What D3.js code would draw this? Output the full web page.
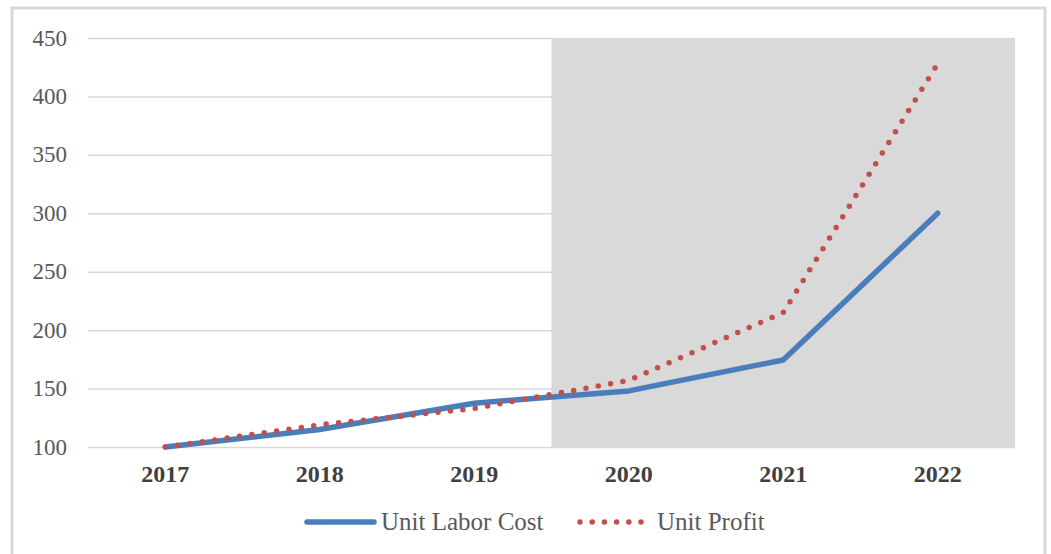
<!DOCTYPE html>
<html>
<head>
<meta charset="utf-8">
<script src="https://d3js.org/d3.v7.min.js"></script>
<style>
  body { margin: 0; background: #fff; }
  text { font-family: "Liberation Serif", "Times New Roman", serif; }
</style>
</head>
<body>
<svg id="chart" width="1051" height="554"></svg>
<script>
var years = ["2017", "2018", "2019", "2020", "2021", "2022"];
var laborCost = [100, 115, 137.5, 148, 174.5, 300];
var unitProfit = [100, 119, 133, 157, 215, 428];
var yTicks = [100, 150, 200, 250, 300, 350, 400, 450];
var shadeFrom = "2020";

var svg = d3.select("#chart");
var plotLeft = 88, plotRight = 1015, plotTop = 38, plotBottom = 447;

// outer frame
svg.append("rect")
    .attr("x", 12).attr("y", 8)
    .attr("width", 1033).attr("height", 560)
    .attr("fill", "#fff")
    .attr("stroke", "#d9d9d9")
    .attr("stroke-width", 3);

var x = d3.scaleBand().domain(years).range([plotLeft, plotRight]);
var y = d3.scaleLinear().domain([100, 450]).range([plotBottom, plotTop]);
var cx = function(d) { return x(d) + x.bandwidth() / 2; };

// gridlines
svg.append("g")
    .attr("transform", "translate(" + plotLeft + ",0)")
    .call(d3.axisLeft(y).tickValues(yTicks).tickSize(-(plotRight - plotLeft)).tickFormat(""))
    .call(function(g) { g.select(".domain").remove(); })
    .selectAll("line")
    .attr("stroke", "#d9d9d9")
    .attr("stroke-width", 1.5);

// shaded period
svg.append("rect")
    .attr("x", x(shadeFrom))
    .attr("y", plotTop)
    .attr("width", plotRight - x(shadeFrom))
    .attr("height", plotBottom - plotTop)
    .attr("fill", "#d9d9d9");

// y labels
svg.append("g")
    .selectAll("text")
    .data(yTicks)
    .enter().append("text")
    .attr("x", 67)
    .attr("y", function(d) { return y(d); })
    .attr("dy", "0.33em")
    .attr("text-anchor", "end")
    .attr("fill", "#595959")
    .style("font-size", "23px")
    .text(function(d) { return d; });

// x labels
svg.append("g")
    .selectAll("text")
    .data(years)
    .enter().append("text")
    .attr("x", cx)
    .attr("y", 482)
    .attr("text-anchor", "middle")
    .attr("fill", "#404040")
    .style("font-size", "24px")
    .style("font-weight", "bold")
    .text(function(d) { return d; });

var line = d3.line()
    .x(function(d, i) { return cx(years[i]); })
    .y(function(d) { return y(d); });

svg.append("path")
    .datum(laborCost)
    .attr("d", line)
    .attr("fill", "none")
    .attr("stroke", "#4a7ebb")
    .attr("stroke-width", 5.5)
    .attr("stroke-linejoin", "round")
    .attr("stroke-linecap", "round");

svg.append("path")
    .datum(unitProfit)
    .attr("d", line)
    .attr("fill", "none")
    .attr("stroke", "#c0504d")
    .attr("stroke-width", 5.5)
    .attr("stroke-dasharray", "0 12.5")
    .attr("stroke-linecap", "round");

// legend
var lg = svg.append("g");
lg.append("line")
    .attr("x1", 307).attr("x2", 374).attr("y1", 522).attr("y2", 522)
    .attr("stroke", "#4a7ebb").attr("stroke-width", 5.5).attr("stroke-linecap", "round");
lg.append("text")
    .attr("x", 381).attr("y", 530)
    .attr("fill", "#595959").style("font-size", "25px")
    .text("Unit Labor Cost");
lg.append("line")
    .attr("x1", 580).attr("x2", 648).attr("y1", 522).attr("y2", 522)
    .attr("stroke", "#c0504d").attr("stroke-width", 5.5)
    .attr("stroke-dasharray", "0 12.2").attr("stroke-linecap", "round");
lg.append("text")
    .attr("x", 657).attr("y", 530)
    .attr("fill", "#595959").style("font-size", "25px")
    .text("Unit Profit");
</script>
</body>
</html>
